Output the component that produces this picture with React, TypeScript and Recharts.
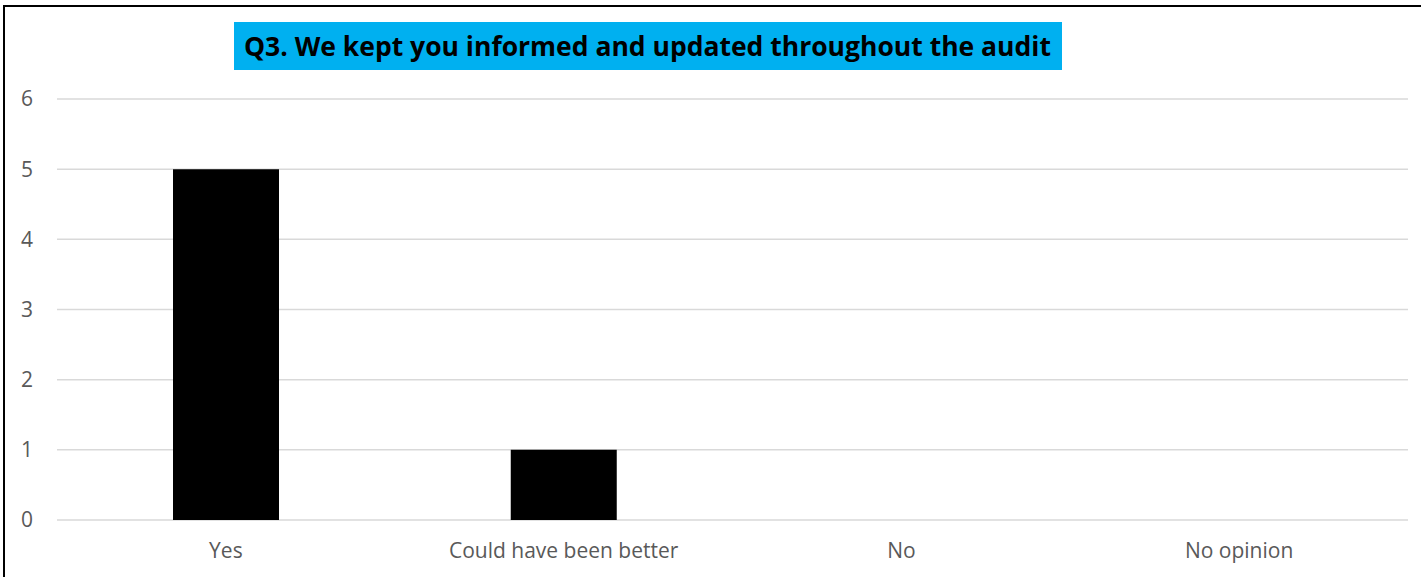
import React from "react";
import { BarChart, Bar, XAxis, YAxis, CartesianGrid } from "recharts";

const categories = ["Yes", "Could have been better", "No", "No opinion"];
const responses = [5, 1, 0, 0];
const yTicks = [0, 1, 2, 3, 4, 5, 6];

const title = "Q3. We kept you informed and updated throughout the audit";

const data = categories.map((name, i) => ({ name, count: responses[i] }));

const tickStyle = { fill: "#595959", fontSize: 21, fontFamily: "'Open Sans', sans-serif" };

export default function App() {
  return (
    <div
      style={{
        position: "fixed",
        left: 0,
        top: 0,
        width: 1421,
        height: 577,
        background: "#fff",
        overflow: "hidden",
      }}
    >
      {/* frame, only top and left edges are visible */}
      <div
        style={{
          position: "absolute",
          left: 3,
          top: 5,
          width: 1440,
          height: 600,
          border: "2px solid #000",
          boxSizing: "border-box",
        }}
      />
      <BarChart
        width={1421}
        height={577}
        data={data}
        margin={{ top: 99, right: 13, bottom: 17, left: 0 }}
        barSize={106}
      >
        <CartesianGrid vertical={false} stroke="#d9d9d9" strokeWidth={1.5} />
        <XAxis
          dataKey="name"
          axisLine={false}
          tickLine={false}
          tick={tickStyle}
          tickMargin={17}
          height={40}
          interval={0}
        />
        <YAxis
          domain={[0, 6]}
          ticks={yTicks}
          axisLine={false}
          tickLine={false}
          tick={tickStyle}
          tickMargin={18}
          width={57}
        />
        <Bar dataKey="count" fill="#000" isAnimationActive={false} />
      </BarChart>
      <div
        style={{
          position: "absolute",
          left: 234,
          top: 22,
          width: 828,
          height: 48,
          background: "#00b0f0",
          color: "#000",
          fontFamily: "'Open Sans', sans-serif",
          fontWeight: 700,
          fontSize: 26.5,
          lineHeight: "48px",
          paddingLeft: 10,
          boxSizing: "border-box",
          whiteSpace: "nowrap",
        }}
      >
        {title}
      </div>
    </div>
  );
}
